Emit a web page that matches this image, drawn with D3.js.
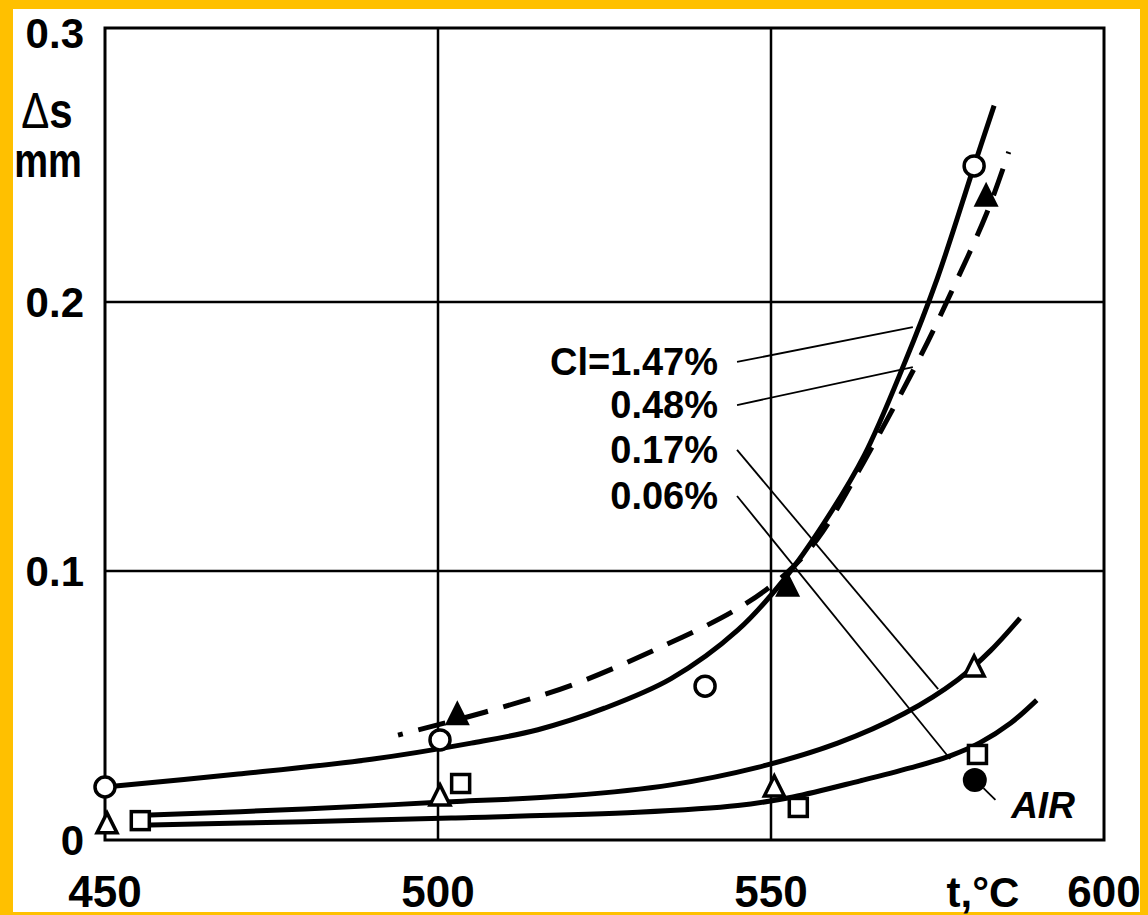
<!DOCTYPE html>
<html>
<head>
<meta charset="utf-8">
<script src="https://cdn.jsdelivr.net/npm/d3@7"></script>
<style>
  body { margin: 0; background: #FFC000; }
  svg { display: block; }
  text { font-family: "Liberation Sans", Arial, sans-serif; font-weight: bold; fill: #000; }
</style>
</head>
<body>
<div id="chart"></div>
<script>
// tick values
var xTicks = [450, 500, 550, 600];
var yTicks = [0, 0.1, 0.2, 0.3];
var yTickLabels = ["0", "0.1", "0.2", "0.3"];

// measured points  [t °C, ds mm]
var circlesOpen = [[450, 0.0197], [500.3, 0.0372], [540.1, 0.0572], [580.5, 0.2506]];
var trianglesFilled = [[502.9, 0.0468], [552.5, 0.0946], [582.3, 0.2396]];
var trianglesOpen = [[450.3, 0.006], [500.3, 0.0164], [550.5, 0.0197], [580.5, 0.0643]];
var squaresOpen = [[455.3, 0.0072], [503.4, 0.021], [554.1, 0.0121], [581.0, 0.0318]];
var airPoint = [[580.6, 0.0223]];

// fitted curves
var curveCl147 = [[450, 0.0197], [470, 0.0245], [490, 0.030], [505, 0.036], [515, 0.041], [525, 0.049],
    [535, 0.060], [545, 0.078], [552, 0.097], [558, 0.118], [564, 0.143], [570, 0.177], [575, 0.209],
    [580.5, 0.2506], [583.5, 0.273]];
var curveCl048 = [[494, 0.039], [507, 0.0475], [520, 0.0575], [533, 0.0712], [545, 0.086], [552, 0.0985],
    [557, 0.112], [563.8, 0.140], [572.4, 0.1796], [577, 0.2033], [582.4, 0.2331], [585.7, 0.2558]];
var curveCl017 = [[456.8, 0.0093], [480, 0.0115], [500, 0.014], [520, 0.0165], [535, 0.0205], [548, 0.027],
    [560, 0.036], [570, 0.047], [578, 0.0595], [583, 0.0705], [587.4, 0.0825]];
var curveCl006 = [[456.8, 0.0056], [480, 0.0068], [502, 0.0082], [530, 0.0103], [545, 0.0128], [553.3, 0.016],
    [563.4, 0.022], [570.9, 0.0268], [576.9, 0.0313], [581.4, 0.0362], [586, 0.0435], [589.9, 0.052]];

// labels and their leader lines (from label to curve)
var curveLabels = ["Cl=1.47%", "0.48%", "0.17%", "0.06%"];
var leaders = [
    [[544.9, 0.1777], [571.3, 0.1907]],
    [[544.9, 0.1617], [571.3, 0.1758]],
    [[544.9, 0.145], [575.1, 0.0561]],
    [[544.9, 0.1279], [576.9, 0.0301]]
];
var airLeader = [[581.9, 0.0193], [583.7, 0.0149]];

var W = 1148, H = 915;
var x = d3.scaleLinear().domain([450, 600]).range([105, 1104]);
var y = d3.scaleLinear().domain([0, 0.3]).range([840, 33]);

var svg = d3.select("#chart").append("svg")
    .attr("width", W)
    .attr("height", H);

// orange border + white page
svg.append("rect").attr("width", W).attr("height", H).attr("fill", "#FFC000");
svg.append("rect").attr("x", 13).attr("y", 9).attr("width", 1127).attr("height", 903).attr("fill", "#fff");

// grid
svg.selectAll(".gx").data(xTicks.slice(1, 3)).enter().append("line")
    .attr("x1", function(d) { return x(d); }).attr("x2", function(d) { return x(d); })
    .attr("y1", 28).attr("y2", 840)
    .attr("stroke", "#000").attr("stroke-width", 2.5);
svg.selectAll(".gy").data(yTicks.slice(1, 3)).enter().append("line")
    .attr("x1", 105).attr("x2", 1104)
    .attr("y1", function(d) { return y(d); }).attr("y2", function(d) { return y(d); })
    .attr("stroke", "#000").attr("stroke-width", 2.5);

// frame
svg.append("rect").attr("x", 105).attr("y", 28).attr("width", 999).attr("height", 812)
    .attr("fill", "none").attr("stroke", "#000").attr("stroke-width", 3);

// tick labels
svg.selectAll(".xl").data(xTicks).enter().append("text")
    .attr("x", function(d) { return x(d); })
    .attr("y", 907)
    .attr("text-anchor", "middle")
    .style("font-size", "44px")
    .text(function(d) { return d; });
svg.selectAll(".yl").data(yTicks).enter().append("text")
    .attr("x", 84)
    .attr("y", function(d) { return y(d); })
    .attr("dy", "0.36em")
    .attr("text-anchor", "end")
    .style("font-size", "42px")
    .text(function(d, i) { return yTickLabels[i]; });

// axis titles
svg.append("text").attr("x", 983).attr("y", 907).attr("text-anchor", "middle")
    .style("font-size", "42px").text("t,°C");
var ds = svg.append("text").attr("transform", "translate(47,128) scale(1,1.2)")
    .attr("text-anchor", "middle").style("font-size", "42px");
ds.append("tspan").style("font-weight", "normal").text("\u0394");
ds.append("tspan").text("s");
svg.append("text").attr("transform", "translate(48,177) scale(1,1.25)")
    .attr("text-anchor", "middle").style("font-size", "38px").text("mm");

// curves
var line = d3.line()
    .x(function(d) { return x(d[0]); })
    .y(function(d) { return y(d[1]); })
    .curve(d3.curveCatmullRom.alpha(0.5));

[curveCl147, curveCl017, curveCl006].forEach(function(c) {
    svg.append("path").attr("d", line(c))
        .attr("fill", "none").attr("stroke", "#000").attr("stroke-width", 5);
});
svg.append("path").attr("d", line(curveCl048))
    .attr("fill", "none").attr("stroke", "#000").attr("stroke-width", 5)
    .attr("stroke-dasharray", "28,16").attr("stroke-dashoffset", 23);

// leader lines
leaders.concat([airLeader]).forEach(function(l) {
    svg.append("line")
        .attr("x1", x(l[0][0])).attr("y1", y(l[0][1]))
        .attr("x2", x(l[1][0])).attr("y2", y(l[1][1]))
        .attr("stroke", "#000").attr("stroke-width", 1.8);
});

// labels
var labelY = [375, 418, 463, 509];
svg.selectAll(".cl").data(curveLabels).enter().append("text")
    .attr("x", 718)
    .attr("y", function(d, i) { return labelY[i]; })
    .attr("text-anchor", "end")
    .style("font-size", "38px")
    .text(function(d) { return d; });
svg.append("text").attr("x", 1043).attr("y", 818).attr("text-anchor", "middle")
    .style("font-size", "37px").style("font-style", "italic").text("AIR");

// markers
svg.selectAll(".co").data(circlesOpen).enter().append("circle")
    .attr("cx", function(d) { return x(d[0]); })
    .attr("cy", function(d) { return y(d[1]); })
    .attr("r", 10)
    .attr("fill", "#fff").attr("stroke", "#000").attr("stroke-width", 3.5);

svg.selectAll(".air").data(airPoint).enter().append("circle")
    .attr("cx", function(d) { return x(d[0]); })
    .attr("cy", function(d) { return y(d[1]); })
    .attr("r", 12)
    .attr("fill", "#000");

svg.selectAll(".sq").data(squaresOpen).enter().append("rect")
    .attr("x", function(d) { return x(d[0]) - 9; })
    .attr("y", function(d) { return y(d[1]) - 9; })
    .attr("width", 18).attr("height", 18)
    .attr("fill", "#fff").attr("stroke", "#000").attr("stroke-width", 3.5);

function tri(s) {
    return "M0," + (-s * 0.55) + "L" + (s / 2) + "," + (s * 0.45) + "L" + (-s / 2) + "," + (s * 0.45) + "Z";
}
svg.selectAll(".to").data(trianglesOpen).enter().append("path")
    .attr("d", tri(20))
    .attr("transform", function(d) { return "translate(" + x(d[0]) + "," + y(d[1]) + ")"; })
    .attr("fill", "#fff").attr("stroke", "#000").attr("stroke-width", 3.5)
    .attr("stroke-linejoin", "miter");
svg.selectAll(".tf").data(trianglesFilled).enter().append("path")
    .attr("d", tri(25))
    .attr("transform", function(d) { return "translate(" + x(d[0]) + "," + y(d[1]) + ")"; })
    .attr("fill", "#000");
</script>
</body>
</html>
